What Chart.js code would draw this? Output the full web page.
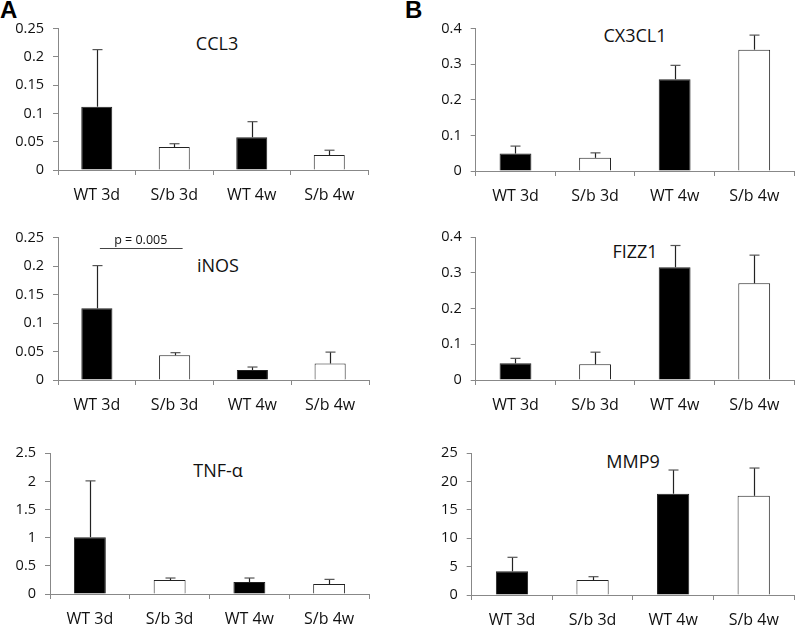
<!DOCTYPE html>
<html>
<head>
<meta charset="utf-8">
<script src="https://cdn.jsdelivr.net/npm/chart.js@4"></script>
<style>
  body { margin: 0; background: #fff; width: 795px; height: 626px; position: relative; overflow: hidden; font-family: "Open Sans", sans-serif; }
  canvas { position: absolute; }
  .letter { position: absolute; font-family: "Liberation Sans", Arial, sans-serif; font-weight: bold; font-size: 24px; line-height: 1; }
  .ttl { position: absolute; font-size: 18px; color: #111; transform: translate(-50%, -50%); white-space: nowrap; }
</style>
</head>
<body>
<div class="letter" style="left:0px;top:-2px">A</div>
<div class="letter" style="left:405px;top:-2px">B</div>

<div class="ttl" style="left:217px;top:43px">CCL3</div>
<div class="ttl" style="left:635px;top:35px">CX3CL1</div>
<div class="ttl" style="left:218px;top:265px">iNOS</div>
<div class="ttl" style="left:635px;top:251px">FIZZ1</div>
<div class="ttl" style="left:218px;top:470px">TNF-α</div>
<div class="ttl" style="left:633px;top:461px">MMP9</div>

<canvas id="c1"></canvas>
<canvas id="c2"></canvas>
<canvas id="c3"></canvas>
<canvas id="c4"></canvas>
<canvas id="c5"></canvas>
<canvas id="c6"></canvas>

<script>
const groups = ["WT 3d", "S/b 3d", "WT 4w", "S/b 4w"];

// mean values and upper error (SD)
const ccl3 = [0.112, 0.0405, 0.058, 0.0265];
const ccl3Err = [0.101, 0.006, 0.0275, 0.0085];
const cx3cl1 = [0.049, 0.037, 0.258, 0.341];
const cx3cl1Err = [0.021, 0.014, 0.039, 0.041];
const inos = [0.126, 0.0434, 0.0176, 0.029];
const inosErr = [0.075, 0.0046, 0.0052, 0.02];
const fizz1 = [0.0467, 0.044, 0.316, 0.271];
const fizz1Err = [0.014, 0.034, 0.061, 0.079];
const tnfa = [1.01, 0.248, 0.213, 0.177];
const tnfaErr = [1.0, 0.036, 0.071, 0.083];
const mmp9 = [4.18, 2.65, 17.87, 17.5];
const mmp9Err = [2.47, 0.58, 4.18, 4.9];

const fills = ["#000", "#fff", "#000", "#fff"];

const errorBars = {
  id: "errorBars",
  afterDatasetsDraw(chart) {
    const ctx = chart.ctx;
    const y = chart.scales.y;
    const errs = chart.options.plugins.errorBars.errs;
    const vals = chart.data.datasets[0].data;
    chart.getDatasetMeta(0).data.forEach((bar, i) => {
      const y0 = y.getPixelForValue(vals[i]);
      const y1 = y.getPixelForValue(vals[i] + errs[i]);
      const x = Math.round(bar.x) + 0.5;
      ctx.save();
      ctx.strokeStyle = "#222";
      ctx.lineWidth = 1.2;
      ctx.beginPath();
      ctx.moveTo(x, y0);
      ctx.lineTo(x, y1);
      ctx.stroke();
      ctx.strokeStyle = "#555";
      ctx.beginPath();
      ctx.moveTo(x - 5, y1);
      ctx.lineTo(x + 5, y1);
      ctx.stroke();
      ctx.restore();
    });
    const sig = chart.options.plugins.errorBars.sig;
    if (sig) {
      const m = chart.getDatasetMeta(0).data;
      const ys = y.getPixelForValue(sig.value);
      ctx.save();
      ctx.strokeStyle = "#444";
      ctx.lineWidth = 1;
      ctx.beginPath();
      ctx.moveTo(m[0].x + 3, Math.round(ys) + 0.5);
      ctx.lineTo(m[1].x + 8, Math.round(ys) + 0.5);
      ctx.stroke();
      ctx.fillStyle = "#111";
      ctx.font = "12.5px 'Open Sans'";
      ctx.textAlign = "center";
      ctx.textBaseline = "bottom";
      ctx.fillText(sig.text, (m[0].x + m[1].x) / 2 + 5, ys - 1);
      ctx.restore();
    }
  }
};

function panel(id, left, top, width, axisX, rightX, topY, zeroY, values, errs, max, step, sig) {
  const cv = document.getElementById(id);
  const xH = 40;
  const height = Math.round(zeroY - top) + xH;
  cv.style.left = left + "px";
  cv.style.top = top + "px";
  cv.style.width = width + "px";
  cv.style.height = height + "px";
  cv.width = width;
  cv.height = height;
  new Chart(cv, {
    type: "bar",
    data: {
      labels: groups,
      datasets: [{
        data: values,
        backgroundColor: fills,
        borderColor: "#222",
        borderWidth: 1,
        barPercentage: 0.4,
        categoryPercentage: 1
      }]
    },
    options: {
      responsive: false,
      animation: false,
      layout: { padding: { top: topY - top, left: 0, right: left + width - rightX, bottom: 0 } },
      plugins: {
        legend: { display: false },
        tooltip: { enabled: false },
        errorBars: { errs: errs, sig: sig }
      },
      scales: {
        x: {
          afterFit(s) { s.height = xH; },
          grid: { offset: true, drawOnChartArea: false, drawTicks: true, tickLength: 5, color: "#888" },
          border: { color: "#888", width: 1 },
          ticks: { color: "#111", font: { family: "Open Sans", size: 16 }, padding: 11, maxRotation: 0 }
        },
        y: {
          min: 0,
          max: max,
          afterFit(s) { s.width = axisX - left; },
          grid: { drawOnChartArea: false, drawTicks: true, tickLength: 5, color: "#888" },
          border: { color: "#888", width: 1 },
          ticks: {
            stepSize: step,
            color: "#111",
            font: { family: "Open Sans", size: 14.5 },
            padding: 9,
            callback: (v) => String(+v.toFixed(3))
          }
        }
      }
    },
    plugins: [errorBars]
  });
}

panel("c1", 0, 0, 395, 58, 368, 28.7, 170, ccl3, ccl3Err, 0.25, 0.05);
panel("c2", 400, 0, 395, 475.7, 794, 28.7, 170.7, cx3cl1, cx3cl1Err, 0.4, 0.1);
panel("c3", 0, 210, 395, 58, 369, 237.7, 380, inos, inosErr, 0.25, 0.05, { value: 0.2325, text: "p = 0.005" });
panel("c4", 400, 210, 395, 475.7, 794, 237.3, 380, fizz1, fizz1Err, 0.4, 0.1);
panel("c5", 0, 420, 395, 50, 369, 453.3, 594.3, tnfa, tnfaErr, 2.5, 0.5);
panel("c6", 400, 420, 395, 471.7, 794, 453.3, 595, mmp9, mmp9Err, 25, 5);
</script>
</body>
</html>
